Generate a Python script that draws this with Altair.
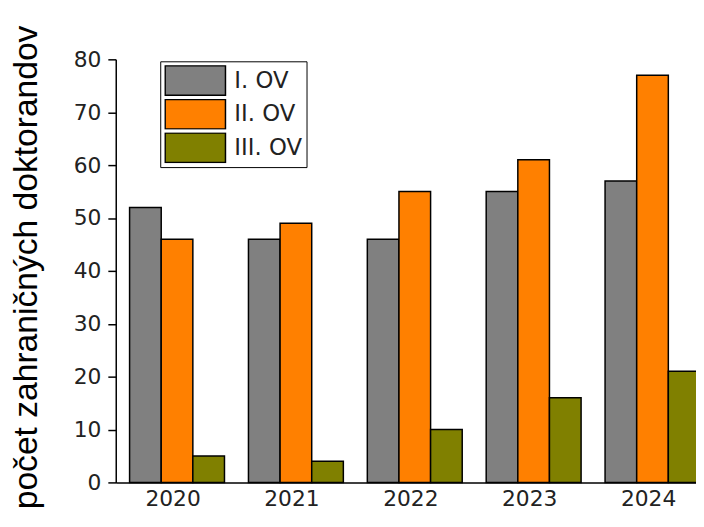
import altair as alt
import pandas as pd

years = ["2020", "2021", "2022", "2023", "2024"]
series = ["I. OV", "II. OV", "III. OV"]
ov1 = [52, 46, 46, 55, 57]
ov2 = [46, 49, 55, 61, 77]
ov3 = [5, 4, 10, 16, 21]
colors = ["#808080", "#FF8000", "#808000"]
y_ticks = [0, 10, 20, 30, 40, 50, 60, 70, 80]

rows = []
for name, vals in zip(series, [ov1, ov2, ov3]):
    for yr, v in zip(years, vals):
        rows.append({"year": yr, "series": name, "value": v})
df = pd.DataFrame(rows)

label_font = "DejaVu Sans"

chart = alt.Chart(df).mark_bar(stroke="black", strokeWidth=1.5).encode(
    x=alt.X("year:N", sort=years,
            scale=alt.Scale(paddingInner=0.2017, paddingOuter=0.1164),
            axis=alt.Axis(title=None, ticks=False, labelAngle=0, labelPadding=6,
                          labelFont=label_font, labelFontSize=22, labelColor="#222",
                          labelOffset=-4, domainColor="black", domainWidth=1.5)),
    xOffset=alt.XOffset("series:N", sort=series),
    y=alt.Y("value:Q", scale=alt.Scale(domain=[0, 80], nice=False),
            axis=alt.Axis(values=y_ticks, grid=False, tickSize=8, tickWidth=1.5,
                          tickColor="black", domainColor="black", domainWidth=1.5,
                          labelPadding=7, labelFont=label_font, labelFontSize=22,
                          labelColor="#222",
                          title="počet zahraničných doktorandov",
                          titleFont="Liberation Sans", titleFontSize=34,
                          titleFontWeight="normal", titleColor="black",
                          titleAngle=270, titleAlign="center", titleBaseline="alphabetic",
                          titleX=-80, titleY=210)),
    color=alt.Color("series:N", sort=series,
                    scale=alt.Scale(domain=series, range=colors),
                    legend=alt.Legend(title=None, orient="none", legendX=45, legendY=2,
                                      symbolType="M-1,-0.49H1V0.49H-1Z", symbolSize=3721,
                                      clipHeight=31, rowPadding=3,
                                      symbolStrokeColor="black", symbolStrokeWidth=1.5,
                                      symbolOpacity=1,
                                      labelFont=label_font, labelFontSize=23,
                                      labelColor="#222", labelOffset=8,
                                      padding=4, strokeColor="black", fillColor="white")),
).properties(
    width=605, height=428,
    padding={"left": 109, "top": 49, "right": -18, "bottom": 28},
    autosize=alt.AutoSizeParams(type="none"),
).configure_view(stroke=None)

chart.save("out.html", embed_options={"renderer": "svg", "actions": False})
